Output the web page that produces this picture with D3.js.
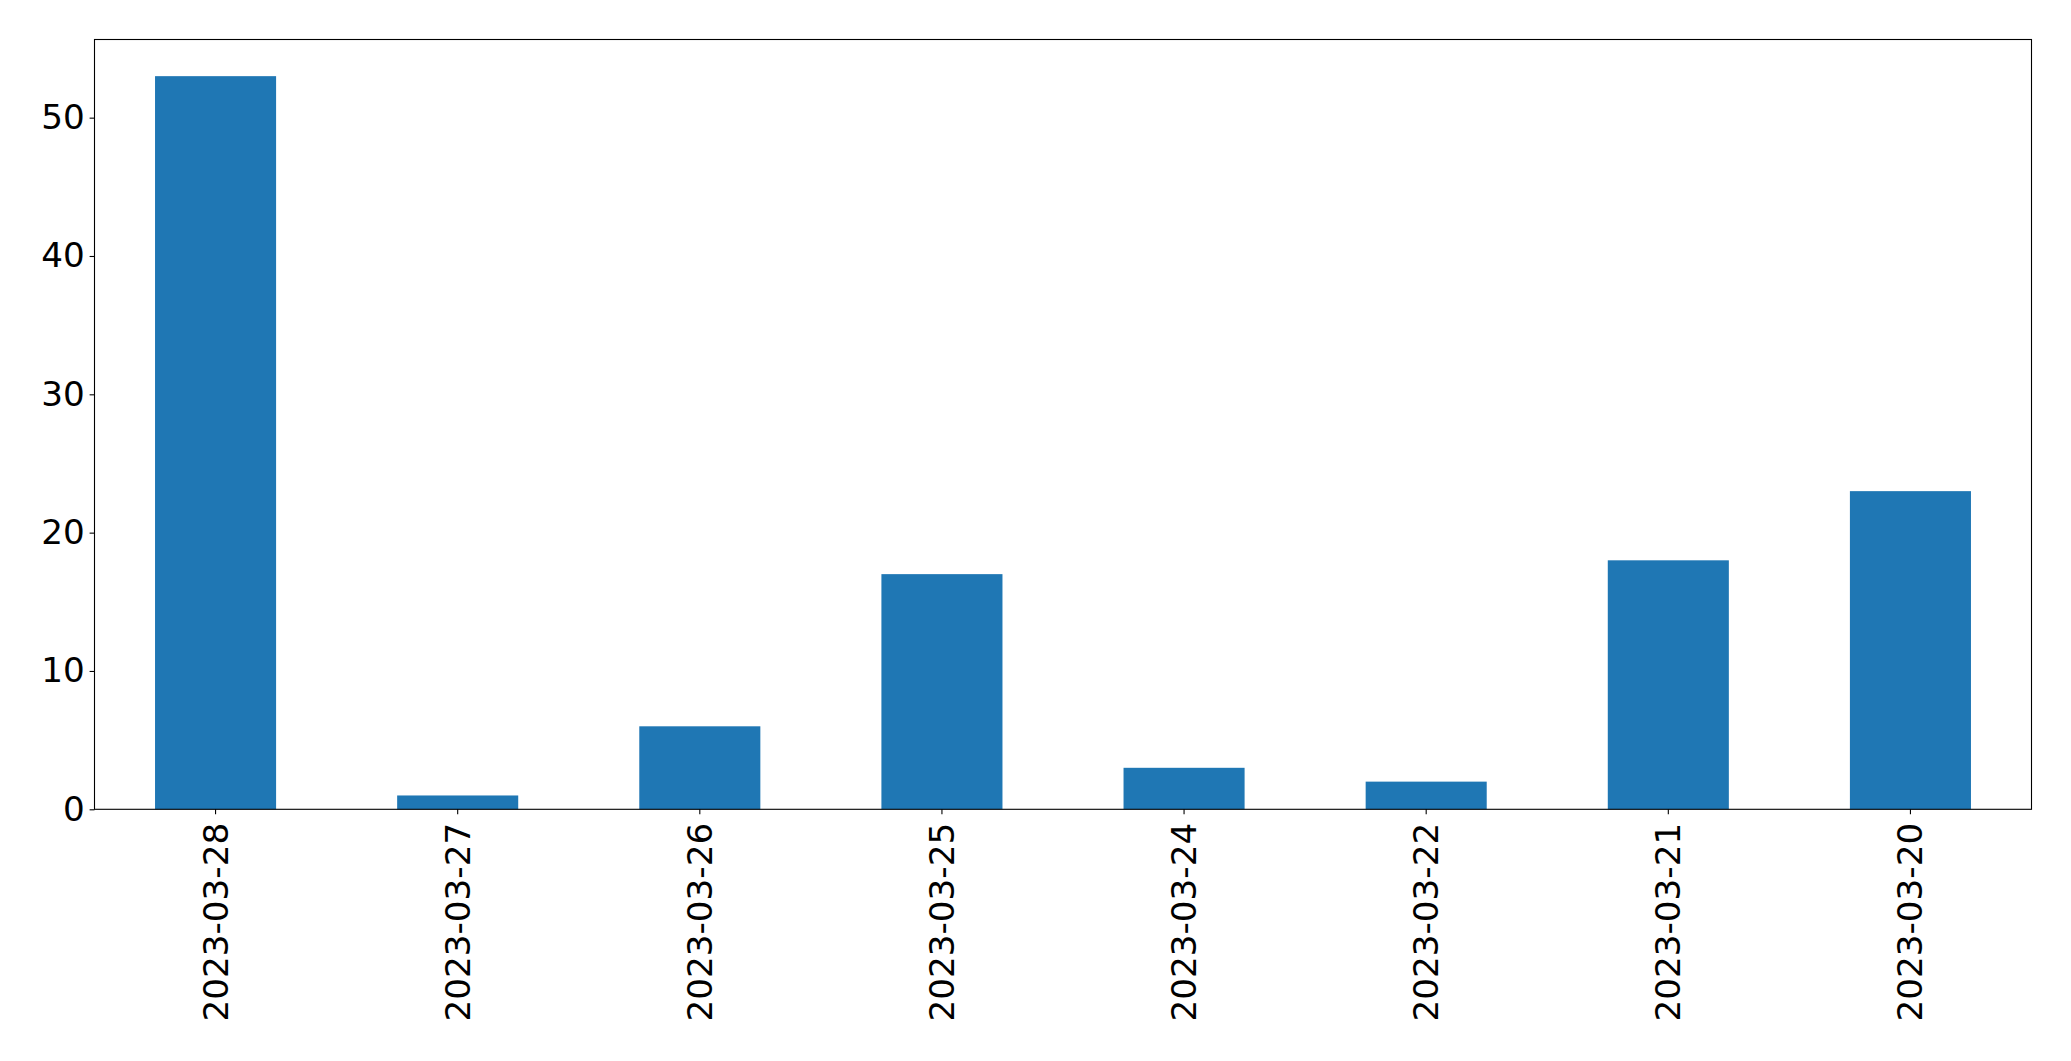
<!DOCTYPE html>
<html>
<head>
<meta charset="utf-8">
<script src="https://cdn.jsdelivr.net/npm/d3@7"></script>
<style>
  html, body { margin: 0; padding: 0; background: #fff; }
  svg { display: block; }
</style>
</head>
<body>
<svg id="chart" width="2071" height="1061"></svg>
<script>
const categories = ["2023-03-28", "2023-03-27", "2023-03-26", "2023-03-25", "2023-03-24", "2023-03-22", "2023-03-21", "2023-03-20"];
const values = [53, 1, 6, 17, 3, 2, 18, 23];
const yTicks = [0, 10, 20, 30, 40, 50];

const W = 2071, H = 1061;
const margin = { left: 94.5, right: W - 2031.5, top: 39.5, bottom: H - 809.3 };
const iw = W - margin.left - margin.right;
const ih = H - margin.top - margin.bottom;
const fontFamily = "'DejaVu Sans', sans-serif";
const fontSize = 34.2;

const svg = d3.select("#chart");
const g = svg.append("g").attr("transform", `translate(${margin.left},${margin.top})`);

const x = d3.scaleBand().domain(categories).range([0, iw]).paddingInner(0.5).paddingOuter(0.25);
const y = d3.scaleLinear().domain([0, d3.max(values) * 1.05]).range([ih, 0]);

g.selectAll("rect.bar")
  .data(categories.map((c, i) => ({ c, v: values[i] })))
  .join("rect")
  .attr("class", "bar")
  .attr("x", d => x(d.c))
  .attr("width", x.bandwidth())
  .attr("y", d => y(d.v))
  .attr("height", d => y(0) - y(d.v))
  .attr("fill", "#1f77b4");

// Y axis
const yAxis = g.append("g")
  .call(d3.axisLeft(y).tickValues(yTicks).tickSize(4.9).tickPadding(4.9).tickFormat(d3.format("d")));
yAxis.select(".domain").remove();
yAxis.selectAll("text").attr("font-family", fontFamily).attr("font-size", fontSize).attr("fill", "#000");
yAxis.selectAll("line").attr("stroke", "#000").attr("stroke-width", 1.1);

// X axis
const xAxis = g.append("g")
  .attr("transform", `translate(0,${ih})`)
  .call(d3.axisBottom(x).tickSize(4.9).tickPadding(0));
xAxis.select(".domain").remove();
xAxis.selectAll("line").attr("stroke", "#000").attr("stroke-width", 1.1);
xAxis.selectAll("text")
  .attr("font-family", fontFamily)
  .attr("font-size", fontSize)
  .attr("fill", "#000")
  .attr("text-anchor", "end")
  .attr("dy", "0.35em")
  .attr("transform", "translate(0,13.5) rotate(-90)")
  .attr("x", 0)
  .attr("y", 0);

// Frame
g.append("rect")
  .attr("x", 0).attr("y", 0).attr("width", iw).attr("height", ih)
  .attr("fill", "none").attr("stroke", "#000").attr("stroke-width", 1.1);
</script>
</body>
</html>
